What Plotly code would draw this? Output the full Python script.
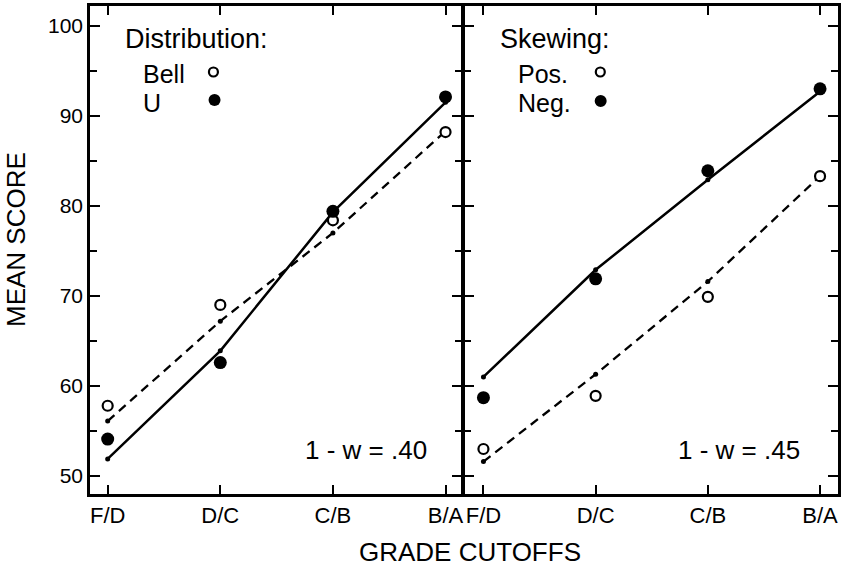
import plotly.graph_objects as go

# ---------------- data ----------------
cutoffs = ["F/D", "D/C", "C/B", "B/A"]
xpos = [0, 1, 2, 3]

# Left panel: Distribution
bell_obs = [57.8, 69.0, 78.4, 88.2]
bell_fit = [56.1, 67.2, 77.0, 88.3]
u_obs = [54.1, 62.6, 79.4, 92.1]
u_fit = [51.9, 63.9, 79.3, 91.5]

# Right panel: Skewing
pos_obs = [53.0, 58.9, 69.9, 83.3]
pos_fit = [51.6, 61.3, 71.6, 83.3]
neg_obs = [58.7, 71.9, 83.9, 93.0]
neg_fit = [61.0, 72.9, 82.9, 92.7]

y_ticks = [50, 60, 70, 80, 90, 100]

FONT = "Liberation Sans, Arial, Helvetica, sans-serif"
BLACK = "black"
LW = 2.5

fig = go.Figure()


def add_panel(xa, ya, open_obs, open_fit, filled_obs, filled_fit):
    # dashed fit for open-circle series
    fig.add_trace(go.Scatter(x=xpos, y=open_fit, mode="lines+markers", xaxis=xa, yaxis=ya,
                             line=dict(color=BLACK, width=2.3, dash="9px,6px"),
                             marker=dict(size=5, color=BLACK), showlegend=False, hoverinfo="skip"))
    # solid fit for filled-circle series
    fig.add_trace(go.Scatter(x=xpos, y=filled_fit, mode="lines+markers", xaxis=xa, yaxis=ya,
                             line=dict(color=BLACK, width=LW),
                             marker=dict(size=5, color=BLACK), showlegend=False, hoverinfo="skip"))
    # observed
    fig.add_trace(go.Scatter(x=xpos, y=open_obs, mode="markers", xaxis=xa, yaxis=ya,
                             marker=dict(size=10, color="white", line=dict(color=BLACK, width=2.2)),
                             showlegend=False))
    fig.add_trace(go.Scatter(x=xpos, y=filled_obs, mode="markers", xaxis=xa, yaxis=ya,
                             marker=dict(size=13, color=BLACK), showlegend=False))


add_panel("x", "y", bell_obs, bell_fit, u_obs, u_fit)
add_panel("x2", "y2", pos_obs, pos_fit, neg_obs, neg_fit)

xcommon = dict(tickmode="array", tickvals=xpos, ticktext=cutoffs, ticks="inside", ticklen=9,
               tickwidth=2, tickcolor=BLACK, showline=True, linewidth=LW, linecolor=BLACK,
               mirror="ticks", showgrid=False, zeroline=False, automargin=False,
               tickfont=dict(family=FONT, size=22, color=BLACK))
ycommon = dict(range=[48.0, 102.2], tickmode="array", tickvals=y_ticks, ticks="inside",
               ticklen=10, tickwidth=2, tickcolor=BLACK, showline=True, linewidth=LW,
               linecolor=BLACK, mirror="ticks", showgrid=False, zeroline=False, automargin=False,
               minor=dict(dtick=5, tick0=0, ticks="inside", ticklen=7, tickwidth=2, tickcolor=BLACK),
               tickfont=dict(family=FONT, size=21, color=BLACK))

W = 748
split = 373 / W
gap = 1.25 / W
fig.update_layout(
    width=843, height=571,
    margin=dict(l=90, r=5, t=6, b=77, autoexpand=False),
    paper_bgcolor="white", plot_bgcolor="white",
    font=dict(family=FONT, color=BLACK),
    xaxis=dict(domain=[0, split - gap], range=[-0.157, 3.144], anchor="y", **xcommon),
    xaxis2=dict(domain=[split + gap, 1], range=[-0.171, 3.16], anchor="y2", **xcommon),
    yaxis=dict(domain=[0, 1], anchor="x", showticklabels=True, **ycommon),
    yaxis2=dict(domain=[0, 1], anchor="x2", showticklabels=False, matches="y", **ycommon),
)

ann_font = dict(family=FONT, size=26, color=BLACK)
head_font = dict(family=FONT, size=27, color=BLACK)
leg_font = dict(family=FONT, size=25, color=BLACK)
annotations = [
    dict(text="MEAN SCORE", xref="paper", yref="paper", x=(16 - 90) / W, y=(494 - 240) / 488,
         textangle=-90, showarrow=False, xanchor="center", yanchor="middle", font=ann_font),
    dict(text="GRADE CUTOFFS", xref="paper", yref="paper", x=(469.5 - 90) / W, y=(494 - 552) / 488,
         showarrow=False, xanchor="center", yanchor="middle", font=ann_font, height=30),
    # left legend
    dict(text="Distribution:", xref="x domain", yref="y domain", x=0.088, y=0.934,
         showarrow=False, xanchor="left", yanchor="middle", font=head_font, height=31),
    dict(text="Bell", xref="x domain", yref="y domain", x=0.137, y=0.861,
         showarrow=False, xanchor="left", yanchor="middle", font=leg_font, height=28),
    dict(text="U", xref="x domain", yref="y domain", x=0.137, y=0.802,
         showarrow=False, xanchor="left", yanchor="middle", font=leg_font, height=28),
    dict(text="1 - w = .40", xref="x domain", yref="y domain", x=0.9115, y=0.090,
         showarrow=False, xanchor="right", yanchor="middle", font=ann_font),
    # right legend
    dict(text="Skewing:", xref="x2 domain", yref="y2 domain", x=0.089, y=0.934,
         showarrow=False, xanchor="left", yanchor="middle", font=head_font, height=31),
    dict(text="Pos.", xref="x2 domain", yref="y2 domain", x=0.139, y=0.861,
         showarrow=False, xanchor="left", yanchor="middle", font=leg_font, height=28),
    dict(text="Neg.", xref="x2 domain", yref="y2 domain", x=0.139, y=0.802,
         showarrow=False, xanchor="left", yanchor="middle", font=leg_font, height=28),
    dict(text="1 - w = .45", xref="x2 domain", yref="y2 domain", x=0.903, y=0.090,
         showarrow=False, xanchor="right", yanchor="middle", font=ann_font),
]
fig.update_layout(annotations=annotations)


def legend_circle(xref, yref, xc, yc, filled):
    d = 12 if filled else 9
    return dict(type="circle", xref=xref, yref=yref, xsizemode="pixel", ysizemode="pixel",
                xanchor=xc, yanchor=yc, x0=-d / 2, x1=d / 2, y0=-d / 2, y1=d / 2,
                fillcolor=BLACK if filled else "white",
                line=dict(color=BLACK, width=0 if filled else 2.2))


shapes = [
    legend_circle("x domain", "y domain", 0.332, (494 - 72) / 488, False),
    legend_circle("x domain", "y domain", 0.335, (494 - 100) / 488, True),
    legend_circle("x2 domain", "y2 domain", 0.364, (494 - 72) / 488, False),
    legend_circle("x2 domain", "y2 domain", 0.365, (494 - 101) / 488, True),
]
fig.update_layout(shapes=shapes)

fig.write_html("out.html", config={"displayModeBar": False},
               post_script="document.body.style.margin='0';document.body.style.overflow='hidden';")
